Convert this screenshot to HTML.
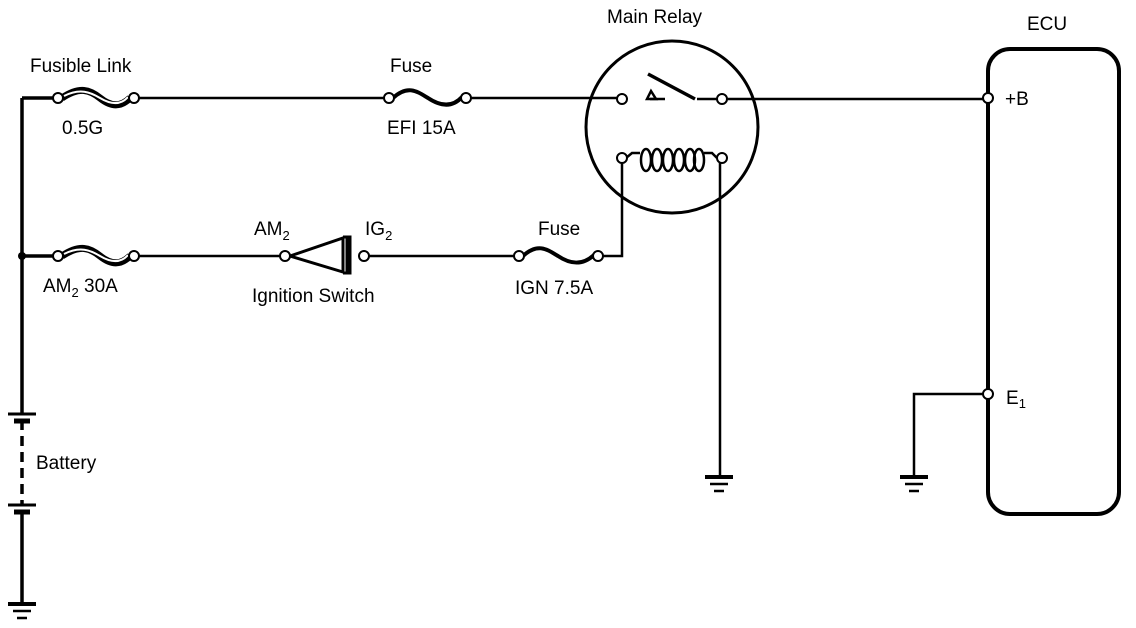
<!DOCTYPE html>
<html><head><style>body{margin:0;background:#fff}svg{display:block}text{font-family:"Liberation Sans",sans-serif;font-size:19px;fill:#000}</style></head>
<body>
<svg width="1136" height="628" viewBox="0 0 1136 628" xmlns="http://www.w3.org/2000/svg">
<g stroke="#000" fill="none" stroke-width="2.5">
<path d="M22 98 V414 M22 510 V604" stroke-width="3.5"/>
<path d="M22 98 H58 M22 256 H58" stroke-width="3.5"/>
<path d="M22 420 V505" stroke-dasharray="10,6" stroke-width="3.5"/>
<path d="M8 414 H36 M8 505 H36" stroke-width="3"/>
<path d="M14 421 H30 M14 512 H30" stroke-width="5"/>
<path d="M8 604 H36" stroke-width="4"/><path d="M13 611 H31 M17 618 H27" stroke-width="2.5"/>
<path d="M134 98 H389 M466 98 H621 M650 99 H665 M697 99 H722 M722 99 H987"/>
<path d="M62 98 C80 86 90 90 100 98 C110 106 120 108 130 98" stroke-width="7"/>
<path d="M64 96 C80 88 90 92 100 98 C110 104 120 106 128 97" stroke="#fff" stroke-width="2"/>
<path d="M62 256 C80 244 90 248 100 256 C110 264 120 266 130 256" stroke-width="7"/>
<path d="M64 254 C80 246 90 250 100 256 C110 262 120 264 128 255" stroke="#fff" stroke-width="2"/>
<path d="M393 98 C408 84 418 92 428 98 C440 106 452 108 462 97" stroke-width="4"/>
<path d="M523 256 C538 242 548 250 558 256 C570 264 582 266 594 255" stroke-width="4"/>
<path d="M134 256 H285 M364 256 H519 M598 256 H622 V158"/>
<path d="M290 256 L343 238 V272 Z" stroke-width="3"/>
<path d="M343 237 H350 V273 H343 M347 238 V272" stroke-width="3"/>
<circle cx="672" cy="127" r="86" stroke-width="3"/>
<path d="M648 74 L695 99" stroke-width="3.5"/>
<path d="M647 99 L651 91 L656 99 Z" stroke-width="2.5"/>
<path d="M626 158 L632 153 H640 M704 153 H712 L717 158"/>
<g stroke-width="2.5">
<ellipse cx="646" cy="160" rx="5" ry="11"/>
<ellipse cx="657" cy="160" rx="5" ry="11"/>
<ellipse cx="668" cy="160" rx="5" ry="11"/>
<ellipse cx="679" cy="160" rx="5" ry="11"/>
<ellipse cx="690" cy="160" rx="5" ry="11"/>
<ellipse cx="699" cy="160" rx="5" ry="11"/>
</g>
<path d="M720 163 V476"/>
<path d="M705 477 H733" stroke-width="4"/><path d="M710 484 H728 M714 491 H724" stroke-width="2.5"/>
<rect x="988" y="49" width="131" height="465" rx="22" stroke-width="4"/>
<path d="M983 394 H914 V476"/>
<path d="M900 477 H928" stroke-width="4"/><path d="M905 484 H923 M909 491 H919" stroke-width="2.5"/>
</g>
<g fill="#fff" stroke="#000" stroke-width="2">
<circle cx="58" cy="98" r="5"/><circle cx="134" cy="98" r="5"/>
<circle cx="58" cy="256" r="5"/><circle cx="134" cy="256" r="5"/>
<circle cx="389" cy="98" r="5"/><circle cx="466" cy="98" r="5"/>
<circle cx="519" cy="256" r="5"/><circle cx="598" cy="256" r="5"/>
<circle cx="285" cy="256" r="5"/><circle cx="364" cy="256" r="5"/>
<circle cx="622" cy="99" r="5"/><circle cx="722" cy="99" r="5"/>
<circle cx="622" cy="158" r="5"/><circle cx="722" cy="158" r="5"/>
<circle cx="988" cy="98" r="5"/><circle cx="988" cy="394" r="5"/>
</g>
<circle cx="22" cy="256" r="4" fill="#000"/>
<text x="30" y="72">Fusible Link</text>
<text x="62" y="134">0.5G</text>
<text x="390" y="72">Fuse</text>
<text x="387" y="134">EFI 15A</text>
<text x="607" y="23">Main Relay</text>
<text x="1027" y="30">ECU</text>
<text x="1005" y="105">+B</text>
<text x="1006" y="404">E<tspan font-size="13" dy="4">1</tspan></text>
<text x="43" y="292">AM<tspan font-size="13" dy="5">2</tspan><tspan dy="-5"> 30A</tspan></text>
<text x="254" y="235">AM<tspan font-size="13" dy="5">2</tspan></text>
<text x="365" y="235">IG<tspan font-size="13" dy="5">2</tspan></text>
<text x="252" y="302">Ignition Switch</text>
<text x="538" y="235">Fuse</text>
<text x="515" y="294">IGN 7.5A</text>
<text x="36" y="469">Battery</text>
</svg>
</body></html>
